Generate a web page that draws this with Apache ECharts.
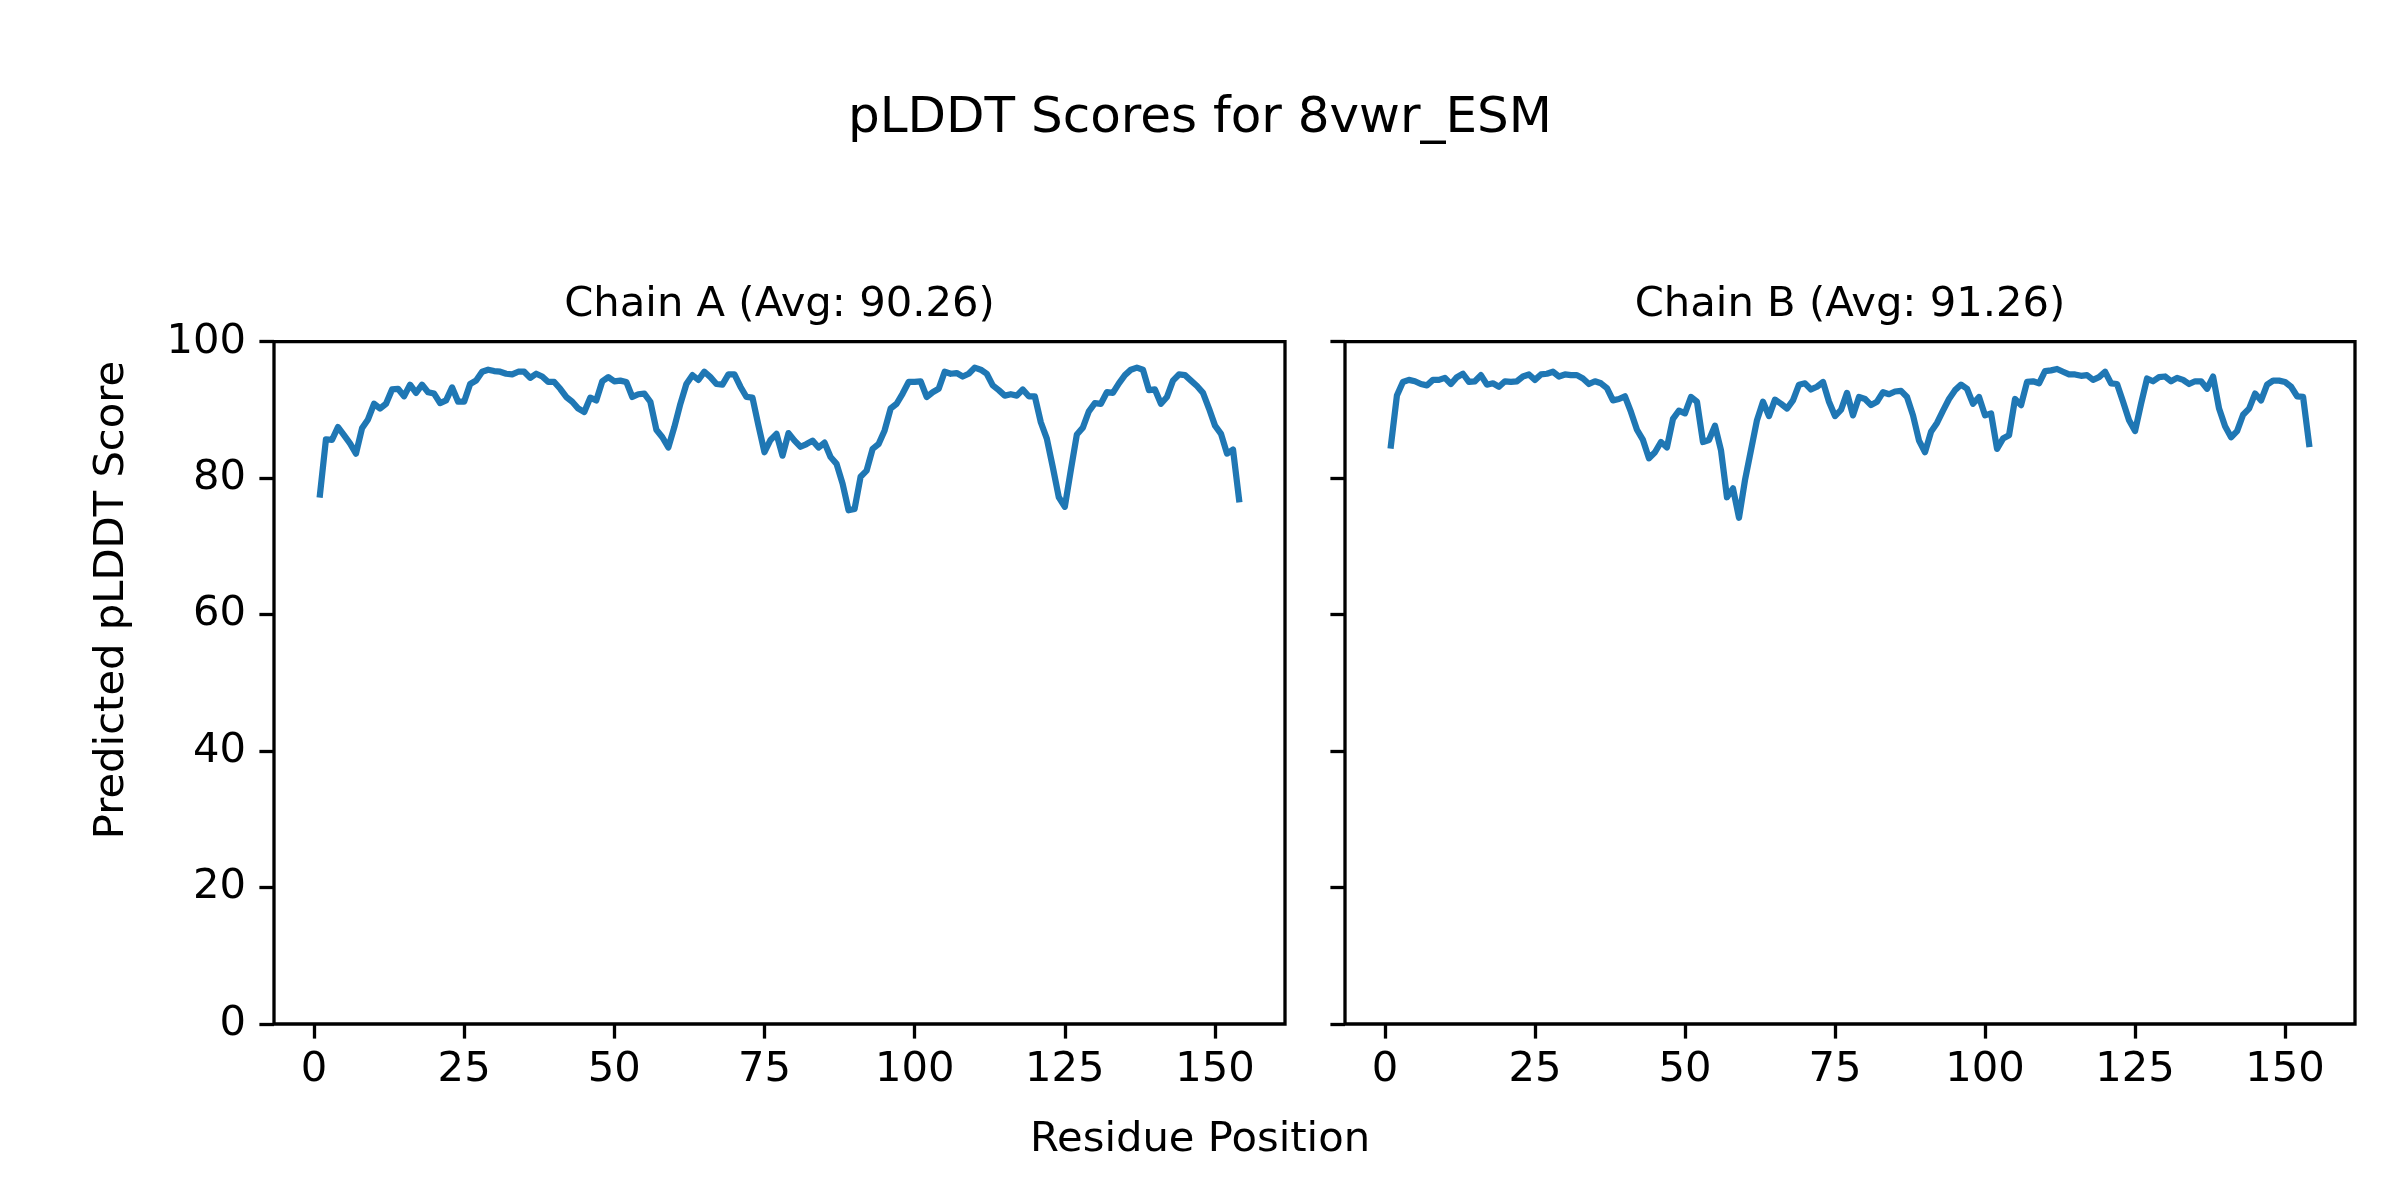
<!DOCTYPE html>
<html>
<head>
<meta charset="utf-8">
<script src="https://cdn.jsdelivr.net/npm/echarts@6/dist/echarts.min.js"></script>
<style>
html,body{margin:0;padding:0;background:#fff;}
#chart{width:2400px;height:1200px;}
</style>
</head>
<body>
<div id="chart"></div>
<script>
// ---- data ----
const chainA = [
  77.6, 85.7, 85.6, 87.5, 86.3, 85.1, 83.6, 87.3, 88.6, 90.9,
  90.2, 90.9, 93.0, 93.1, 92.0, 93.7, 92.5, 93.7, 92.6, 92.4,
  91.0, 91.4, 93.3, 91.2, 91.2, 93.8, 94.3, 95.6, 95.9, 95.7,
  95.6, 95.3, 95.2, 95.6, 95.6, 94.7, 95.3, 94.9, 94.1, 94.1,
  93.1, 91.9, 91.2, 90.2, 89.7, 91.8, 91.4, 94.2, 94.8, 94.2,
  94.3, 94.1, 91.9, 92.3, 92.4, 91.2, 87.1, 86.0, 84.5, 87.5,
  90.9, 93.8, 95.1, 94.4, 95.6, 94.8, 93.8, 93.7, 95.2, 95.2,
  93.4, 91.9, 91.8, 87.7, 83.8, 85.6, 86.5, 83.3, 86.6, 85.5,
  84.6, 85.0, 85.5, 84.5, 85.2, 83.1, 82.1, 79.2, 75.3, 75.5,
  80.2, 81.1, 84.3, 85.0, 87.0, 90.2, 90.9, 92.4, 94.1, 94.1,
  94.2, 91.9, 92.6, 93.1, 95.6, 95.3, 95.4, 94.9, 95.3, 96.2,
  95.9, 95.3, 93.6, 92.9, 92.1, 92.3, 92.1, 93.0, 92.0, 92.0,
  88.2, 85.8, 81.6, 77.2, 75.8, 81.2, 86.4, 87.4, 89.8, 91.0,
  90.9, 92.6, 92.5, 93.9, 95.1, 95.9, 96.2, 95.9, 92.9, 93.0,
  90.9, 91.9, 94.3, 95.2, 95.1, 94.3, 93.5, 92.5, 90.2, 87.7,
  86.5, 83.6, 84.2, 76.9
];
const chainB = [
  84.8, 92.1, 94.1, 94.4, 94.2, 93.8, 93.6, 94.4, 94.4, 94.7,
  93.8, 94.8, 95.3, 94.1, 94.2, 95.1, 93.7, 93.9, 93.4, 94.2,
  94.1, 94.2, 94.9, 95.2, 94.4, 95.2, 95.3, 95.6, 94.9, 95.2,
  95.1, 95.1, 94.6, 93.8, 94.2, 93.9, 93.2, 91.4, 91.6, 92.0,
  89.7, 87.1, 85.6, 82.9, 83.8, 85.3, 84.5, 88.7, 89.9, 89.5,
  91.9, 91.2, 85.3, 85.6, 87.7, 84.1, 77.2, 78.5, 74.2, 79.7,
  84.1, 88.5, 91.2, 89.1, 91.5, 90.9, 90.2, 91.4, 93.7, 93.9,
  93.0, 93.4, 94.1, 91.2, 89.1, 90.0, 92.5, 89.2, 91.9, 91.6,
  90.7, 91.2, 92.6, 92.3, 92.7, 92.8, 91.9, 89.2, 85.5, 83.8,
  86.8, 88.1, 89.9, 91.6, 92.9, 93.7, 93.1, 90.9, 91.9, 89.2,
  89.5, 84.3, 85.8, 86.3, 91.6, 90.7, 94.1, 94.2, 93.9, 95.7,
  95.8, 96.0, 95.6, 95.2, 95.2, 95.0, 95.1, 94.4, 94.8, 95.6,
  93.9, 93.8, 91.2, 88.5, 86.9, 90.9, 94.6, 94.2, 94.8, 94.9,
  94.2, 94.7, 94.4, 93.8, 94.2, 94.2, 93.1, 94.9, 90.2, 87.6,
  86.0, 86.9, 89.3, 90.2, 92.4, 91.4, 93.7, 94.3, 94.3, 94.1,
  93.4, 92.0, 91.9, 85.0
];
const xTicks = [0, 25, 50, 75, 100, 125, 150];
const yTicks = [0, 20, 40, 60, 80, 100];
const mainTitle = 'pLDDT Scores for 8vwr_ESM';
const subTitles = ['Chain A (Avg: 90.26)', 'Chain B (Avg: 91.26)'];
const xLabel = 'Residue Position';
const yLabel = 'Predicted pLDDT Score';

// ---- chart ----
const FONT = 'DejaVu Sans';
const toPairs = arr => arr.map((v, i) => [i + 1, v]);

const gridTop = 341.7, gridH = 682.3;
const grids = [
  {left: 274, top: gridTop, width: 1011, height: gridH},
  {left: 1345, top: gridTop, width: 1010, height: gridH}
];

function xAxisFor(idx) {
  return {
    gridIndex: idx, type: 'value', min: -6.65, max: 161.65,
    axisLine: {show: false, onZero: false},
    splitLine: {show: false},
    axisTick: {show: true, customValues: xTicks, length: 14.6, lineStyle: {color: '#000', width: 3.3}},
    axisLabel: {customValues: xTicks, fontSize: 41.7, fontFamily: FONT, color: '#000', margin: 25}
  };
}
function yAxisFor(idx, showLabels) {
  return {
    gridIndex: idx, type: 'value', min: 0, max: 100, interval: 20,
    axisLine: {show: false, onZero: false},
    splitLine: {show: false},
    axisTick: {show: true, customValues: yTicks, length: 14.6, lineStyle: {color: '#000', width: 3.3}},
    axisLabel: {show: showLabels, customValues: yTicks, fontSize: 41.7, fontFamily: FONT, color: '#000', margin: 28}
  };
}

const textEl = (text, x, y, size, rot) => ({
  type: 'text', x: x, y: y, rotation: rot || 0,
  style: {text: text, fontSize: size, fontFamily: FONT, fill: '#000',
          textAlign: 'center', textVerticalAlign: 'middle', align: 'center', verticalAlign: 'middle'}
});

const chart = echarts.init(document.getElementById('chart'), null, {renderer: 'canvas'});
chart.setOption({
  animation: false,
  backgroundColor: '#fff',
  grid: grids.map(g => Object.assign({show: true, borderColor: '#000', borderWidth: 3.3, backgroundColor: 'transparent'}, g)),
  xAxis: [xAxisFor(0), xAxisFor(1)],
  yAxis: [yAxisFor(0, true), yAxisFor(1, false)],
  series: [
    {type: 'line', xAxisIndex: 0, yAxisIndex: 0, data: toPairs(chainA), showSymbol: false,
     lineStyle: {color: '#1f77b4', width: 6.25, cap: 'square', join: 'round'}},
    {type: 'line', xAxisIndex: 1, yAxisIndex: 1, data: toPairs(chainB), showSymbol: false,
     lineStyle: {color: '#1f77b4', width: 6.25, cap: 'square', join: 'round'}}
  ],
  graphic: [
    textEl(mainTitle, 1200, 119.5, 50),
    textEl(subTitles[0], 779.5, 305.5, 41.7),
    textEl(subTitles[1], 1850, 305.5, 41.7),
    textEl(xLabel, 1200, 1140.5, 41.7),
    textEl(yLabel, 112.3, 600, 41.7, Math.PI / 2)
  ]
});
</script>
</body>
</html>
